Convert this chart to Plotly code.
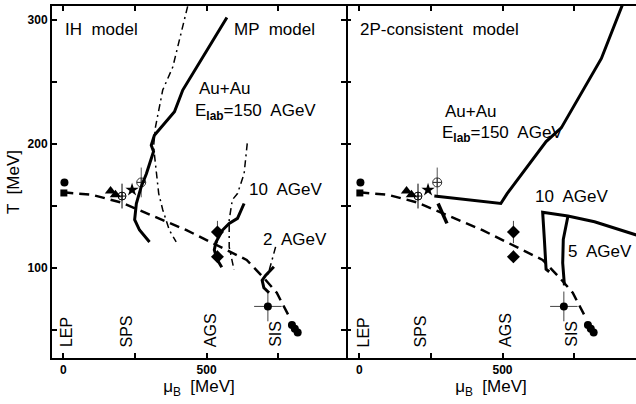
import plotly.graph_objects as go

# ---------------- data (mu_B [MeV], T [MeV]) ----------------
FO_MU = [0, 100, 200, 280, 360, 430, 500, 570, 640, 700, 745, 790]
FO_T = [161, 159, 153, 145, 137, 130.5, 122.5, 114.5, 106.5, 92, 80, 60]

MP150_MU = [571, 475, 417, 388, 318, 307, 315, 290, 272, 255, 249, 266, 301]
MP150_T = [302, 266, 243.5, 226, 207, 199, 194, 176, 165.6, 152, 139, 130.6, 121]
IH150_MU = [434, 382, 347, 322, 315, 324, 333, 347, 370, 394]
IH150_T = [311, 262, 243.5, 214, 198, 176, 160, 147, 130.6, 121]
MP10_MU = [631, 608, 579, 556, 533, 527, 538, 553]
MP10_T = [152, 140, 136, 130.6, 121, 114.5, 106.5, 100.6]
IH10_MU = [642, 631, 608, 590, 579, 579, 596]
IH10_T = [200.5, 176, 160, 155, 138.7, 117, 98.4]
MP2_MU = [735, 706, 694, 700, 718]
MP2_T = [101, 94, 90, 84, 80]
IH2_MU = [741, 729, 715]
IH2_T = [117, 106.5, 95]

CONS150_MU = [262, 494, 516, 652, 705, 845, 918]
CONS150_T = [158, 152, 160, 202, 213, 269, 312]
CONS_SPS_MU = [275, 306]
CONS_SPS_T = [152, 136]
CONS10_MU = [663, 652, 646, 640, 728, 821, 967]
CONS10_T = [97, 99, 123, 145, 142, 137.3, 126.6]
CONS5_MU = [728, 712, 710, 716]
CONS5_T = [141.5, 123, 104, 86]

LEP_CIRC = ([4], [169])
LEP_SQ = ([2], [160.5])
SPS_TRI = ([165, 182], [162, 159])
SPS_CROSS = ([205], [158], [10])
SPS_STAR = ([240], [163])
SPS_OPEN = ([272], [169], [15], [12])
AGS_MU = [538, 538]
AGS_T = [129, 109]
AGS_ERR = [9, 5]
SIS_PT = ([714], [69], [48], [12])
SIS_BLOB = ([798, 808, 818], [54, 51, 48])

ACC_NAMES = ["LEP", "SPS", "AGS", "SIS"]
ACC_MU_L = [9, 220, 512, 741]
ACC_MU_R = [14, 213, 511, 741]

FONT = "Liberation Sans"

fig = go.Figure()


def add_common(xa, ya):
    kw = dict(xaxis=xa, yaxis=ya, showlegend=False, hoverinfo="skip")
    fig.add_trace(go.Scatter(x=FO_MU, y=FO_T, mode="lines",
                             line=dict(color="black", width=2.5, dash="10px,6px"), **kw))
    fig.add_trace(go.Scatter(x=LEP_CIRC[0], y=LEP_CIRC[1], mode="markers",
                             marker=dict(symbol="circle", size=8, color="black"), **kw))
    fig.add_trace(go.Scatter(x=LEP_SQ[0], y=LEP_SQ[1], mode="markers",
                             marker=dict(symbol="square", size=7, color="black"), **kw))
    fig.add_trace(go.Scatter(x=SPS_TRI[0], y=SPS_TRI[1], mode="markers",
                             marker=dict(symbol="triangle-up", size=10, color="black"), **kw))
    fig.add_trace(go.Scatter(x=SPS_CROSS[0], y=SPS_CROSS[1], mode="markers",
                             error_y=dict(type="data", array=SPS_CROSS[2], color="black",
                                          thickness=1, width=0),
                             marker=dict(symbol="circle-cross-open", size=8, color="black",
                                         line=dict(width=1)), **kw))
    fig.add_trace(go.Scatter(x=SPS_STAR[0], y=SPS_STAR[1], mode="markers",
                             marker=dict(symbol="star", size=10, color="black"), **kw))
    fig.add_trace(go.Scatter(x=SPS_OPEN[0], y=SPS_OPEN[1], mode="markers",
                             error_x=dict(type="data", array=SPS_OPEN[2], color="#555",
                                          thickness=1, width=0),
                             error_y=dict(type="data", array=SPS_OPEN[3], color="#555",
                                          thickness=1, width=0),
                             marker=dict(symbol="circle-cross-open", size=9, color="#333",
                                         line=dict(width=1)), **kw))
    fig.add_trace(go.Scatter(x=AGS_MU, y=AGS_T, mode="markers",
                             error_y=dict(type="data", array=AGS_ERR, color="#444",
                                          thickness=1, width=0),
                             marker=dict(symbol="diamond", size=10, color="black"), **kw))
    fig.add_trace(go.Scatter(x=SIS_PT[0], y=SIS_PT[1], mode="markers",
                             error_x=dict(type="data", array=SIS_PT[2], color="#444",
                                          thickness=1, width=0),
                             error_y=dict(type="data", array=SIS_PT[3], color="#444",
                                          thickness=1, width=0),
                             marker=dict(symbol="circle", size=8, color="black"), **kw))
    fig.add_trace(go.Scatter(x=SIS_BLOB[0], y=SIS_BLOB[1], mode="markers",
                             marker=dict(symbol="circle", size=8, color="black"), **kw))


def add_line(xs, ys, xa, ya, width=3, dash="solid"):
    fig.add_trace(go.Scatter(x=xs, y=ys, mode="lines", xaxis=xa, yaxis=ya,
                             line=dict(color="black", width=width, dash=dash),
                             showlegend=False, hoverinfo="skip"))


DASHDOT = "7px,4px,2px,4px"
# left panel
add_common("x", "y")
add_line(MP150_MU, MP150_T, "x", "y", 3)
add_line(IH150_MU, IH150_T, "x", "y", 1.5, DASHDOT)
add_line(MP10_MU, MP10_T, "x", "y", 3)
add_line(IH10_MU, IH10_T, "x", "y", 1.5, DASHDOT)
add_line(MP2_MU, MP2_T, "x", "y", 3)
add_line(IH2_MU, IH2_T, "x", "y", 1.5, DASHDOT)
# right panel
add_common("x2", "y2")
add_line(CONS150_MU, CONS150_T, "x2", "y2", 3)
add_line(CONS_SPS_MU, CONS_SPS_T, "x2", "y2", 3.5)
add_line(CONS10_MU, CONS10_T, "x2", "y2", 3)
add_line(CONS5_MU, CONS5_T, "x2", "y2", 3)

YR = [27.4, 311.3]
axcommon = dict(showgrid=False, zeroline=False, showline=True, linecolor="black",
                linewidth=2, ticks="inside", ticklen=5, tickwidth=1.5, tickcolor="black",
                mirror="ticks", automargin=False,
                tickfont=dict(family=FONT, size=12, color="black", weight="bold"))
xt = dict(tickmode="array", tickvals=[0, 250, 500, 750], ticktext=["0", "", "500", ""])
yt = dict(tickmode="array", tickvals=[50, 100, 150, 200, 250, 300],
          ticktext=["", "100", "", "200", "", "300"])
xtitle = dict(text="μ<sub>B</sub>  [MeV]", font=dict(family=FONT, size=17, color="black"),
              standoff=2)

y2kw = {k: v for k, v in axcommon.items() if k not in ("mirror", "showline")}

fig.update_layout(
    width=636, height=404,
    margin=dict(l=52, r=0, t=6, b=46),
    paper_bgcolor="white", plot_bgcolor="white",
    xaxis=dict(domain=[0, 0.5034], range=[-39.4, 986.6], title=xtitle, **xt, **axcommon),
    yaxis=dict(range=YR, title=dict(text="T  [MeV]", font=dict(family=FONT, size=17,
                                                               color="black"), standoff=4),
               **yt, **axcommon),
    xaxis2=dict(domain=[0.5034, 1], range=[-46.4, 965.8], anchor="y2", title=xtitle,
                **xt, **axcommon),
    yaxis2=dict(range=YR, anchor="x2", showticklabels=False, showline=False, **yt, **y2kw),
)

ann = []


def txt(x, y, s, xref, yref, xanchor="left", size=17, angle=0, yanchor="middle"):
    ann.append(dict(x=x, y=y, xref=xref, yref=yref, text=s, showarrow=False,
                    xanchor=xanchor, yanchor=yanchor, textangle=angle,
                    font=dict(family=FONT, size=size, color="black")))


E150 = "E<sub><b>lab</b></sub>=150  AGeV"
txt(0, 292, "IH  model", "x", "y")
txt(589, 292, "MP  model", "x", "y")
txt(468, 244.5, "Au+Au", "x", "y")
txt(454, 225.5, E150, "x", "y")
txt(641, 163, "10  AGeV", "x", "y")
txt(690, 122.6, "2  AGeV", "x", "y")
txt(-4, 292, "2P-consistent  model", "x2", "y2")
txt(293, 226, "Au+Au", "x2", "y2")
txt(283, 208, E150, "x2", "y2")
txt(605, 157.5, "10  AGeV", "x2", "y2")
txt(722, 113, "5  AGeV", "x2", "y2")
for n, ml, mr in zip(ACC_NAMES, ACC_MU_L, ACC_MU_R):
    txt(ml, 34.5, n, "x", "y", xanchor="center", angle=-90, yanchor="bottom", size=16)
    txt(mr, 34.5, n, "x2", "y2", xanchor="center", angle=-90, yanchor="bottom", size=16)
fig.update_layout(annotations=ann)

fig.write_html("out.html", config={"displayModeBar": False},
               post_script="document.body.style.margin='0';"
                           "document.body.style.overflow='hidden';")
